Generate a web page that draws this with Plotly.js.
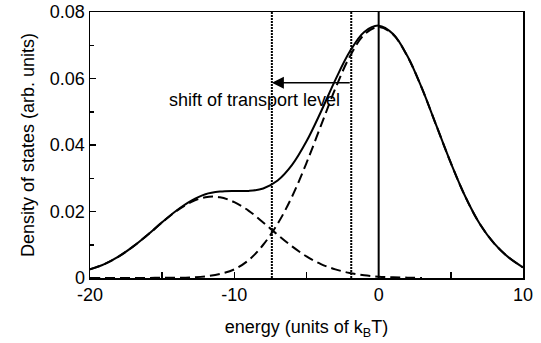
<!DOCTYPE html>
<html>
<head>
<meta charset="utf-8">
<script src="https://cdn.plot.ly/plotly-3.0.1.min.js"></script>
<style>html,body{margin:0;padding:0;background:#fff;}#chart{width:541px;height:343px;}</style>
</head>
<body>
<div id="chart"></div>
<script>
// energy grid (units of kBT)
const energy = [-20,-19,-18,-17,-16,-15,-14,-13,-12,-11,-10,-9,-8,-7,-6,-5,-4,-3,-2,-1,0,1,2,3,4,5,6,7,8,9,10];
// total density of states (solid)
const totalDOS = [0.0026,0.0042,0.0065,0.0095,0.0130,0.0168,0.0203,0.0232,0.0252,0.0260,0.0262,0.0262,0.0269,0.0293,0.0340,0.0411,0.0500,0.0596,0.0681,0.0740,0.0759,0.0734,0.0667,0.0570,0.0458,0.0346,0.0245,0.0163,0.0104,0.0062,0.0032];
// main (intrinsic) Gaussian, dashed
const mainDOS = [0,0,0,0,0.0000,0.0001,0.0001,0.0002,0.0005,0.0012,0.0026,0.0054,0.0100,0.0163,0.0245,0.0346,0.0458,0.0570,0.0666,0.0732,0.0755,0.0732,0.0666,0.0570,0.0458,0.0346,0.0245,0.0163,0.0104,0.0062,0.0032];
// trap (tail) Gaussian, dashed
const trapDOS = [0.0026,0.0042,0.0065,0.0095,0.0130,0.0167,0.0202,0.0228,0.0243,0.0243,0.0228,0.0202,0.0167,0.0130,0.0095,0.0065,0.0042,0.0026,0.0015,0.0008,0.0004,0.0002,0.0001,0.0000];
const trapEnergy = energy.slice(0, trapDOS.length);
// marked levels
const origLevel = -1.9;
const shiftedLevel = -7.4;
const arrowY = 0.0587;
const xTicks = [-20,-10,0,10];
const xTickText = ['-20','-10','0','10'];
const xMinor = [-15,-5,5];
const yTicks = [0,0.02,0.04,0.06,0.08];
const yTickText = ['0','0.02','0.04','0.06','0.08'];
const yMinor = [0.01,0.03,0.05,0.07];

const font = {family: 'Liberation Sans, Arial, sans-serif', size: 18, color: '#000'};

const traces = [
  {x: energy, y: totalDOS, mode: 'lines', line: {color: '#000', width: 2, shape: 'spline'}, hoverinfo: 'skip'},
  {x: energy, y: mainDOS, mode: 'lines', line: {color: '#000', width: 2, dash: '10px,5px', shape: 'spline'}, hoverinfo: 'skip'},
  {x: trapEnergy, y: trapDOS, mode: 'lines', line: {color: '#000', width: 2, dash: '10px,5px', shape: 'spline'}, hoverinfo: 'skip'}
];

const layout = {
  width: 541, height: 343,
  margin: {l: 90, r: 18, t: 12, b: 65},
  paper_bgcolor: '#fff', plot_bgcolor: '#fff',
  showlegend: false,
  font: font,
  xaxis: {
    range: [-20, 10], tickmode: 'array', tickvals: xTicks, ticktext: xTickText,
    ticks: 'inside', ticklen: 6, tickwidth: 1.5, tickcolor: '#000',
    minor: {tickvals: xMinor, ticks: 'inside', ticklen: 6, tickwidth: 1.5, tickcolor: '#000', showgrid: false},
    showline: true, linecolor: '#000', linewidth: 1.5, mirror: true,
    showgrid: false, zeroline: false, tickfont: font,
    title: {text: 'energy (units of k<sub>B</sub>T)', font: font, standoff: 16}
  },
  yaxis: {
    range: [0, 0.08], tickmode: 'array', tickvals: yTicks, ticktext: yTickText,
    ticks: 'inside', ticklen: 6, tickwidth: 1.5, tickcolor: '#000',
    minor: {tickvals: yMinor, ticks: 'inside', ticklen: 4, tickwidth: 1.5, tickcolor: '#000', showgrid: false},
    showline: true, linecolor: '#000', linewidth: 1.5, mirror: true,
    showgrid: false, zeroline: false, tickfont: font,
    title: {text: 'Density of states (arb. units)', font: font, standoff: 10}
  },
  shapes: [
    {type: 'line', xref: 'x', yref: 'y', x0: 0, x1: 0, y0: 0, y1: 0.08, line: {color: '#000', width: 2}},
    {type: 'line', xref: 'x', yref: 'y', x0: origLevel, x1: origLevel, y0: 0, y1: 0.08, line: {color: '#000', width: 2, dash: '2px,1px'}},
    {type: 'line', xref: 'x', yref: 'y', x0: shiftedLevel, x1: shiftedLevel, y0: 0, y1: 0.08, line: {color: '#000', width: 2, dash: '2px,1px'}}
  ],
  annotations: [
    {x: shiftedLevel, y: arrowY, ax: origLevel, ay: arrowY, axref: 'x', ayref: 'y', xref: 'x', yref: 'y',
     text: '', showarrow: true, arrowhead: 2, arrowsize: 1.6, arrowwidth: 1.5, arrowcolor: '#000', standoff: 0, startstandoff: 0},
    {x: -8.6, y: 0.0535, xref: 'x', yref: 'y', text: 'shift of transport level', showarrow: false, font: font, xanchor: 'center', yanchor: 'middle'}
  ]
};

Plotly.newPlot('chart', traces, layout, {staticPlot: true, displayModeBar: false});
</script>
</body>
</html>
